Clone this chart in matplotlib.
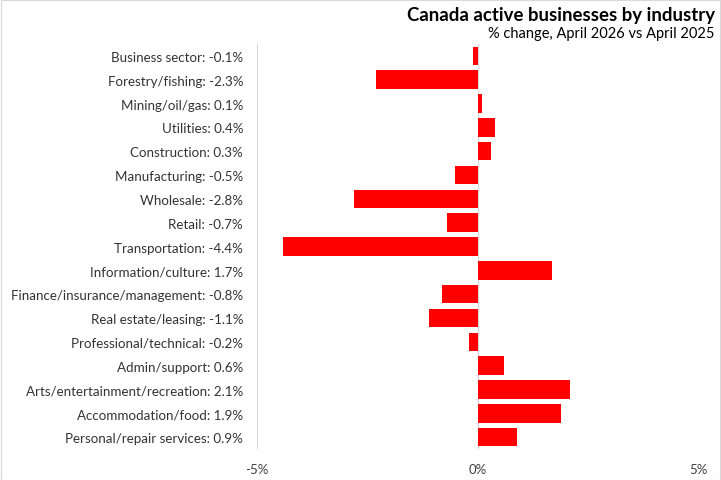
import matplotlib.pyplot as plt
from matplotlib.patches import Rectangle
from matplotlib.ticker import FuncFormatter

# industries, top to bottom
industries = ['Business sector', 'Forestry/fishing', 'Mining/oil/gas', 'Utilities',
              'Construction', 'Manufacturing', 'Wholesale', 'Retail', 'Transportation',
              'Information/culture', 'Finance/insurance/management', 'Real estate/leasing',
              'Professional/technical', 'Admin/support', 'Arts/entertainment/recreation',
              'Accommodation/food', 'Personal/repair services']
# % change April 2026 vs April 2025
pct_change = [-0.1, -2.3, 0.1, 0.4, 0.3, -0.5, -2.8, -0.7, -4.4,
              1.7, -0.8, -1.1, -0.2, 0.6, 2.1, 1.9, 0.9]
x_ticks = [-5, 0, 5]

plt.rcParams['font.family'] = ['Lato', 'DejaVu Sans']

fig = plt.figure(figsize=(7.21, 4.81), dpi=100)
ax = fig.add_axes([257 / 721, 1 - 450 / 481, (698 - 257) / 721, (450 - 45) / 481])

pos = list(range(len(industries)))
ax.barh(pos, pct_change, height=0.78, color='#ff0000', zorder=3)
ax.set_yticks(pos)
ax.set_yticklabels([f'{n}: {v:.1f}%' for n, v in zip(industries, pct_change)], fontsize=9.6)
ax.set_ylim(len(industries) - 0.5, -0.5)

ax.set_xlim(-5, 5)
ax.set_xticks(x_ticks)
ax.xaxis.set_major_formatter(FuncFormatter(lambda v, p: f'{v:.0f}%'))
ax.tick_params(axis='x', labelsize=9.5, length=0, pad=10, colors='#404040')
ax.tick_params(axis='y', length=0, pad=10, colors='#333333')
ax.grid(axis='x', color='#d9d9d9', linewidth=0.8, zorder=0)
for s in ax.spines.values():
    s.set_visible(False)

fig.text(715 / 721, 1 - 21 / 481, 'Canada active businesses by industry',
         ha='right', fontsize=13.4, fontweight='bold', color='black')
fig.text(715 / 721, 1 - 38 / 481, '% change, April 2026 vs April 2025',
         ha='right', fontsize=10.5, color='black')

# light chart border like the original
fig.patches.append(Rectangle((0.001, 0.001), 0.997, 0.997, transform=fig.transFigure,
                             fill=False, edgecolor='#d9d9d9', linewidth=0.8))

fig.savefig('out.png', dpi=100)
